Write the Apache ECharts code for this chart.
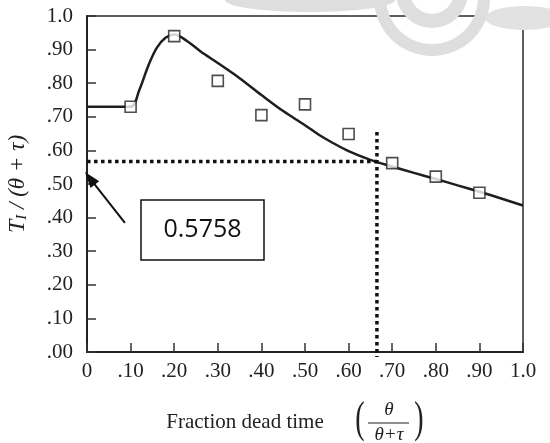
<!DOCTYPE html>
<html>
<head>
<meta charset="utf-8">
<script src="https://cdn.jsdelivr.net/npm/echarts@6/dist/echarts.min.js"></script>
<style>html,body{margin:0;padding:0;background:#fff}#c{width:550px;height:443px}</style>
</head>
<body>
<div id="c"></div>
<script>
// Tick labels
var xTickLabels = ['0', '.10', '.20', '.30', '.40', '.50', '.60', '.70', '.80', '.90', '1.0'];
var yTickLabels = ['.00', '.10', '.20', '.30', '.40', '.50', '.60', '.70', '.80', '.90', '1.0'];
// Measured points (squares)
var pointX = [0.10, 0.20, 0.30, 0.40, 0.50, 0.60, 0.70, 0.80, 0.90];
var pointY = [0.730, 0.940, 0.807, 0.705, 0.737, 0.649, 0.562, 0.522, 0.474];
// Fitted curve
var curveX = [0, 0.10, 0.12, 0.14, 0.16, 0.18, 0.20, 0.23, 0.26, 0.30, 0.35, 0.40, 0.45, 0.50, 0.53, 0.56, 0.60, 0.65, 0.70, 0.75, 0.80, 0.85, 0.90, 0.95, 1.00];
var curveY = [0.730, 0.730, 0.780, 0.850, 0.905, 0.935, 0.945, 0.925, 0.895, 0.860, 0.815, 0.765, 0.717, 0.675, 0.648, 0.625, 0.598, 0.572, 0.552, 0.533, 0.515, 0.496, 0.477, 0.457, 0.436];
// Reading guide
var readValue = 0.5758;
var readY = 0.567;
var readX = 0.665;
var hLineX = [-0.032, 0.665];
var vLineY = [0.655, -0.015];
var arrowFrom = [0.087, 0.384];
var arrowTo = [0.0067, 0.517];

function zip(a, b) { return a.map(function (v, i) { return [v, b[i]]; }); }

var chart = echarts.init(document.getElementById('c'));
var serif = '"Liberation Serif", "DejaVu Serif", serif';
chart.setOption({
  animation: false,
  backgroundColor: '#fff',
  grid: { left: 87, right: 27, top: 16, bottom: 91, show: true, borderColor: '#2a2a2a', borderWidth: 1.5, backgroundColor: 'transparent' },
  xAxis: {
    type: 'value', min: 0, max: 1, interval: 0.1,
    axisLine: { show: true, lineStyle: { color: '#222', width: 2 } },
    axisTick: { show: true, inside: true, length: 9, lineStyle: { color: '#333', width: 1.5 } },
    splitLine: { show: false },
    axisLabel: { margin: 9, color: '#222', fontFamily: serif, fontSize: 21,
      formatter: function (v) { return xTickLabels[Math.round(v * 10)]; } }
  },
  yAxis: {
    type: 'value', min: 0, max: 1, interval: 0.1,
    axisLine: { show: true, lineStyle: { color: '#222', width: 2 } },
    axisTick: { show: true, inside: true, length: 9, lineStyle: { color: '#333', width: 1.5 } },
    splitLine: { show: false },
    axisLabel: { margin: 14, color: '#222', fontFamily: serif, fontSize: 21,
      formatter: function (v) { return yTickLabels[Math.round(v * 10)]; } }
  },
  series: [
    {
      type: 'line', data: zip(curveX, curveY), smooth: 0.35, symbol: 'none',
      lineStyle: { color: '#1e1e1e', width: 2.5 }, z: 3
    },
    {
      type: 'scatter', data: zip(pointX, pointY), symbol: 'rect', symbolSize: 11,
      itemStyle: { color: '#fff', borderColor: '#222', borderWidth: 1.6 }, z: 5
    },
    {
      type: 'line', data: [[hLineX[0], readY], [hLineX[1], readY]], symbol: 'none', clip: false,
      lineStyle: { color: '#111', width: 3.5, type: [3.5, 3.5] }, z: 4
    },
    {
      type: 'line', data: [[readX, vLineY[0]], [readX, vLineY[1]]], symbol: 'none', clip: false,
      lineStyle: { color: '#111', width: 3.5, type: [3.5, 3.5] }, z: 4
    },
    {
      type: 'line', clip: false, z: 6, showSymbol: true,
      data: [
        { value: arrowFrom, symbol: 'none' },
        { value: arrowTo, symbol: 'triangle', symbolSize: [11, 16], symbolRotate: 38 }
      ],
      lineStyle: { color: '#111', width: 2 },
      itemStyle: { color: '#111', borderWidth: 0 }
    }
  ],
  graphic: [
    // faint watermark
    { type: 'group', silent: true, z: -10, children: [
      { type: 'ellipse', shape: { cx: 310, cy: 0, rx: 85, ry: 12 }, style: { fill: '#dedede' } },
      { type: 'ring', shape: { cx: 432, cy: -2, r: 58, r0: 46 }, style: { fill: '#dedede' } },
      { type: 'ring', shape: { cx: 432, cy: -8, r: 36, r0: 22 }, style: { fill: '#dedede' } },
      { type: 'ellipse', shape: { cx: 525, cy: 18, rx: 40, ry: 12 }, style: { fill: '#e2e2e2' } }
    ]},
    // value box
    { type: 'rect', shape: { x: 141, y: 200, width: 123, height: 60 },
      style: { fill: '#fff', stroke: '#111', lineWidth: 1.5 }, z: 10 },
    { type: 'text', x: 202.5, y: 230, z: 11,
      style: { text: String(readValue), fontFamily: '"Open Sans", "Liberation Sans", sans-serif', fontSize: 25, fill: '#111', align: 'center', verticalAlign: 'middle' } },
    // y axis title
    { type: 'text', x: 18, y: 184, rotation: Math.PI / 2, z: 10,
      style: {
        text: '{t|T}{s|I}{n| / (θ + τ)}', align: 'center', verticalAlign: 'middle',
        rich: {
          t: { fontFamily: serif, fontStyle: 'italic', fontSize: 24, fill: '#222' },
          s: { fontFamily: serif, fontStyle: 'italic', fontSize: 15, fill: '#222', verticalAlign: 'bottom', padding: [9, 0, 0, 0] },
          n: { fontFamily: serif, fontStyle: 'italic', fontSize: 23, fill: '#222' }
        }
      } },
    // x axis title
    { type: 'text', x: 245, y: 422, z: 10,
      style: { text: 'Fraction dead time', fontFamily: serif, fontSize: 21, fill: '#222', align: 'center', verticalAlign: 'middle' } },
    { type: 'text', x: 360, y: 420, z: 10, scaleY: 1.6,
      style: { text: '(', fontFamily: serif, fontSize: 28, fill: '#222', align: 'center', verticalAlign: 'middle' } },
    { type: 'text', x: 419, y: 420, z: 10, scaleY: 1.6,
      style: { text: ')', fontFamily: serif, fontSize: 28, fill: '#222', align: 'center', verticalAlign: 'middle' } },
    { type: 'text', x: 389, y: 410, z: 10,
      style: { text: 'θ', fontFamily: serif, fontStyle: 'italic', fontSize: 19, fill: '#222', align: 'center', verticalAlign: 'middle' } },
    { type: 'line', shape: { x1: 368, y1: 423, x2: 409, y2: 423 }, style: { stroke: '#222', lineWidth: 1.2 }, z: 10 },
    { type: 'text', x: 389, y: 435, z: 10,
      style: { text: 'θ+τ', fontFamily: serif, fontStyle: 'italic', fontSize: 19, fill: '#222', align: 'center', verticalAlign: 'middle' } }
  ]
});
</script>
</body>
</html>
